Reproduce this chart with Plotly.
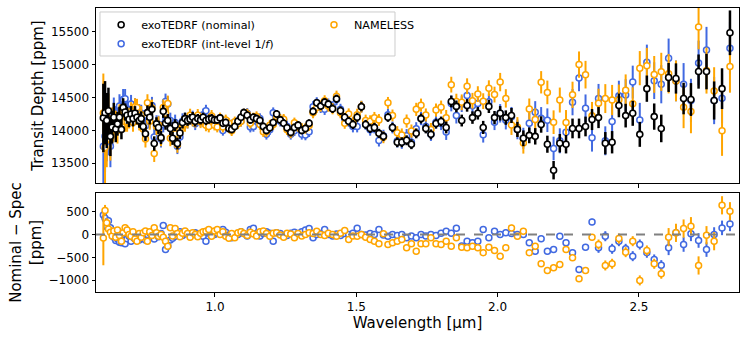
import numpy as np
import plotly.graph_objects as go

# ---------------- data ----------------
wavelength = [
    0.605, 0.611, 0.617, 0.623, 0.630, 0.636, 0.642, 0.649, 0.655, 0.662,
    0.669, 0.675, 0.682, 0.689, 0.696, 0.703, 0.710, 0.717, 0.724, 0.732,
    0.739, 0.746, 0.754, 0.761, 0.769, 0.777, 0.785, 0.793, 0.800, 0.809,
    0.817, 0.825, 0.833, 0.842, 0.850, 0.859, 0.867, 0.876, 0.885, 0.894,
    0.903, 0.912, 0.921, 0.930, 0.939, 0.949, 0.958, 0.968, 0.978, 0.988,
    0.998, 1.008, 1.018, 1.028, 1.038, 1.049, 1.059, 1.070, 1.081, 1.092,
    1.102, 1.114, 1.125, 1.136, 1.147, 1.159, 1.171, 1.182, 1.194, 1.206,
    1.218, 1.231, 1.243, 1.255, 1.268, 1.281, 1.294, 1.307, 1.320, 1.333,
    1.347, 1.360, 1.374, 1.388, 1.401, 1.416, 1.430, 1.444, 1.459, 1.473,
    1.488, 1.503, 1.518, 1.533, 1.549, 1.564, 1.580, 1.596, 1.612, 1.628,
    1.645, 1.661, 1.678, 1.695, 1.712, 1.729, 1.746, 1.764, 1.782, 1.800,
    1.818, 1.836, 1.854, 1.873, 1.892, 1.911, 1.930, 1.949, 1.969, 1.989,
    2.009, 2.029, 2.049, 2.070, 2.091, 2.112, 2.133, 2.154, 2.176, 2.198,
    2.220, 2.242, 2.265, 2.288, 2.311, 2.334, 2.357, 2.381, 2.405, 2.429,
    2.453, 2.478, 2.503, 2.528, 2.554, 2.579, 2.605, 2.631, 2.658, 2.684,
    2.711, 2.739, 2.766, 2.794, 2.822,
]

# exoTEDRF (nominal) transit depth [ppm]
depth_nominal = [
    14190, 14270, 14150, 14300, 13910, 14050, 14200, 14020, 14100, 14200,
    14015, 14350, 14280, 14230, 14170, 14250, 14180, 14260, 14200, 14150,
    14180, 14060, 13950, 14270, 14200, 14320, 13800, 14100, 14045, 13890,
    14290, 14110, 14150, 14030, 13880, 14080, 13800, 13960, 14120, 14180,
    14150, 14170, 14200, 14140, 14180, 14160, 14200, 14150, 14170, 14180,
    14160, 14160, 14190, 14110, 14120, 14030, 14015, 14060, 14140, 14200,
    14270, 14230, 14160, 14200, 14180, 14150, 14060, 14000, 14040, 14120,
    14250, 14160, 14110, 14040, 13970, 14045, 14080, 14000, 14030, 14110,
    14290, 14420, 14370, 14430, 14400, 14330, 14480, 14300, 14200, 14140,
    14090, 14200, 14360, 14090, 14030, 14045, 13955, 13910, 14200, 14045,
    13820, 13820, 13850, 13790, 13955, 14180, 14030, 13940, 14105, 14135,
    14045, 14440, 14365, 14150, 14380, 14195, 14260, 14045, 14365, 14195,
    14260, 14195, 14227, 14015, 13880, 13925, 13910, 14090, 13790, 13395,
    13805, 13790, 14030, 14030, 14060, 14165, 14195, 13805, 13820, 14380,
    14225, 14260, 13940, 14635, 14210, 14030, 14805, 14790, 14485, 14470,
    14895, 14895, 14455, 14635, 15485,
]

err_nominal = [
    520, 480, 420, 350, 300, 250, 220, 200, 180, 160,
    150, 140, 130, 130, 120, 120, 120, 110, 110, 110,
    110, 110, 110, 110, 110, 110, 110, 100, 100, 100,
    100, 100, 100, 100, 100, 90, 90, 90, 90, 90,
    80, 80, 80, 80, 70, 70, 70, 70, 70, 70,
    60, 60, 60, 60, 60, 60, 60, 60, 60, 60,
    60, 60, 60, 60, 60, 60, 60, 60, 60, 60,
    60, 60, 60, 60, 60, 60, 60, 60, 60, 60,
    60, 60, 60, 60, 60, 65, 65, 65, 65, 65,
    70, 70, 70, 70, 70, 70, 70, 70, 70, 70,
    75, 75, 75, 75, 75, 75, 75, 75, 75, 75,
    90, 90, 90, 90, 95, 95, 95, 100, 100, 100,
    110, 110, 115, 115, 120, 120, 125, 125, 130, 140,
    140, 140, 150, 150, 150, 160, 160, 170, 170, 180,
    180, 190, 190, 200, 200, 210, 220, 230, 240, 250,
    260, 270, 290, 310, 340,
]

# uncertainties of the two alternative reductions (top panel)
err_alt = [
    600, 550, 450, 380, 320, 270, 240, 220, 200, 180,
    170, 160, 150, 150, 140, 140, 140, 130, 130, 130,
    130, 130, 130, 130, 130, 130, 130, 130, 130, 130,
    120, 120, 120, 120, 120, 120, 120, 120, 120, 120,
    100, 100, 100, 95, 95, 95, 90, 90, 90, 90,
    80, 80, 80, 80, 80, 80, 80, 80, 80, 80,
    80, 80, 80, 80, 80, 80, 80, 80, 80, 80,
    80, 80, 80, 80, 80, 80, 80, 80, 80, 80,
    85, 85, 85, 85, 85, 85, 85, 85, 85, 85,
    90, 90, 90, 90, 90, 90, 90, 90, 90, 90,
    100, 100, 100, 100, 100, 100, 100, 100, 100, 100,
    120, 120, 120, 120, 120, 120, 120, 120, 120, 120,
    140, 140, 150, 150, 160, 160, 170, 170, 180, 180,
    190, 190, 200, 200, 210, 210, 220, 220, 230, 230,
    240, 250, 260, 270, 280, 290, 300, 310, 320, 330,
    340, 350, 360, 380, 400,
]

# Nominal - Spec residuals [ppm] (bottom panel)
resid_intlevel = [
    430, 360, 170, 300, 150, 60, -60, -130, -100, -170,
    -180, -120, -200, -90, -40, -150, -60, -100, -30, -120,
    -80, -30, -120, 0, 40, -60, -100, 0, -50, 20,
    200, -330, -250, -120, -80, -40, 40, 60, -20, 30,
    20, -30, 0, 40, -20, 10, -40, -150, 30, -10,
    0, 30, 70, 110, 50, -10, -70, -20, 0, 60,
    20, -30, 110, 140, 0, -30, 20, 60, 30, -150,
    40, 20, -40, -20, 30, 50, 20, 60, 100, 130,
    -70, 0, 20, 110, 0, -30, 10, -20, 20, 0,
    30, 140, 0, -10, 20, 0, 110, -10, -40, 0,
    -20, 0, -70, -30, -70, 0, -30, 0, -20, 30,
    70, 30, 140, -250, -150, -180, -150, 110, -70, 70,
    0, 40, 20, 0, 0, -183, -365, -95, -365, -330,
    -37, -183, -400, -766, -277, 277, -292, -37, -314, -146,
    -314, -475, -219, -400, -547, -672, -292, 37, -219, 15,
    -131, -330, 0, 146, 234,
]

resid_nameless = [
    -75, 530, 260, 120, 50, -30, 80, -60, 100, -20,
    -150, 40, 150, 100, 0, -40, 60, -100, -150, 20,
    -60, 40, 80, -150, 60, -20, 150, 40, -40, 0,
    -60, -150, -260, 150, -30, 130, 20, -50, 30, 80,
    20, -60, 40, 0, -50, 30, 60, 73, 110, -40,
    80, 110, 0, 60, -40, -80, 20, -70, 40, 60,
    20, -20, 50, 10, -30, 60, 80, 20, -40, 30,
    40, -10, -60, 30, 10, -70, 20, -30, 0, 37,
    20, 70, 0, -20, 30, 0, -40, 30, 90, -110,
    -30, -40, 0, -60, -110, -146, -204, 15, -219, -183,
    -146, -110, -292, -200, -365, -204, -204, -73, -204, -219,
    -146, -256, -73, -277, -292, -256, -292, -400, -277, -350,
    -475, -292, 146, -37, 73, -400, -256, -642, -788, -730,
    -657, -330, -511, -971, -788, -58, -219, -679, -642, -88,
    -387, -146, -1007, -350, -642, -861, -58, 37, 131, 183,
    -679, -15, -146, 642, 511,
]

resid_err_intlevel = [
    150, 120, 100, 80, 70, 40, 40, 40, 40, 40,
    40, 40, 40, 40, 40, 40, 40, 40, 40, 40,
    40, 40, 40, 40, 40, 40, 40, 40, 40, 40,
    40, 40, 40, 40, 40, 40, 40, 40, 40, 40,
    40, 30, 30, 30, 30, 30, 30, 30, 30, 30,
    30, 30, 30, 30, 30, 30, 30, 30, 30, 30,
    30, 30, 30, 30, 30, 30, 30, 30, 30, 30,
    30, 30, 30, 30, 30, 30, 30, 30, 30, 30,
    30, 30, 30, 30, 30, 30, 30, 30, 30, 30,
    30, 30, 30, 30, 30, 30, 30, 30, 30, 30,
    30, 30, 30, 30, 30, 30, 30, 30, 30, 30,
    30, 30, 30, 30, 30, 30, 30, 30, 30, 30,
    30, 70, 70, 70, 70, 70, 70, 70, 70, 70,
    70, 70, 70, 70, 70, 70, 110, 110, 110, 110,
    110, 110, 110, 110, 110, 110, 160, 160, 160, 160,
    160, 160, 160, 160, 160,
]

resid_err_nameless = [
    600, 120, 100, 80, 70, 40, 40, 40, 40, 40,
    40, 40, 40, 40, 40, 40, 40, 40, 40, 40,
    40, 40, 40, 40, 40, 40, 40, 40, 40, 40,
    40, 40, 40, 40, 40, 40, 40, 40, 40, 40,
    40, 30, 30, 30, 30, 30, 30, 30, 30, 30,
    30, 30, 30, 30, 30, 30, 30, 30, 30, 30,
    30, 30, 30, 30, 30, 30, 30, 30, 30, 30,
    30, 30, 30, 30, 30, 30, 30, 30, 30, 30,
    30, 30, 30, 30, 30, 30, 30, 30, 30, 30,
    30, 30, 30, 30, 30, 30, 30, 30, 30, 30,
    30, 30, 30, 30, 30, 30, 30, 30, 30, 30,
    30, 30, 30, 30, 30, 30, 30, 30, 30, 30,
    30, 70, 70, 70, 70, 70, 70, 70, 70, 70,
    70, 70, 70, 70, 70, 70, 110, 110, 110, 110,
    110, 110, 110, 110, 110, 110, 200, 200, 200, 200,
    200, 200, 200, 200, 200,
]

top_ticks = [13500, 14000, 14500, 15000, 15500]
bottom_ticks = [-1000, -500, 0, 500]
x_ticks = [1.0, 1.5, 2.0, 2.5]

# spectra of the alternative reductions follow from the residuals
nominal = np.array(depth_nominal, dtype=float)
depth_intlevel = nominal - np.array(resid_intlevel, dtype=float)
depth_nameless = nominal - np.array(resid_nameless, dtype=float)

BLUE = "#4169E1"
ORANGE = "#FFA500"
FONT = "DejaVu Sans"

fig = go.Figure()


def add_series(x, y, err, color, name, xaxis, yaxis, show, rank, ethick, mline,
               legend="legend"):
    fig.add_trace(go.Scatter(
        x=x, y=y, mode="markers", name=name, showlegend=show, legendrank=rank,
        legend=legend, xaxis=xaxis, yaxis=yaxis,
        error_y=dict(type="data", array=err, visible=True, color=color,
                     thickness=ethick, width=0),
        marker=dict(symbol="circle", size=6, color="white",
                    line=dict(color=color, width=mline)),
    ))


# top panel
add_series(wavelength, depth_intlevel, err_alt, BLUE,
           "exoTEDRF (int-level 1/<i>f</i>)", "x", "y", True, 3, 2, 1.5)
add_series(wavelength, depth_nameless, err_alt, ORANGE,
           "NAMELESS", "x", "y", True, 2, 2, 1.5, legend="legend2")
add_series(wavelength, depth_nominal, err_nominal, "black",
           "exoTEDRF (nominal)", "x", "y", True, 1, 2.5, 1.6)

# bottom panel
add_series(wavelength, resid_intlevel, resid_err_intlevel, BLUE,
           "int", "x2", "y2", False, 10, 2, 1.5)
add_series(wavelength, resid_nameless, resid_err_nameless, ORANGE,
           "nl", "x2", "y2", False, 11, 2, 1.5)

fig.add_shape(type="line", xref="x2 domain", yref="y2", x0=0, x1=1, y0=0, y1=0,
              line=dict(color="#808080", width=2, dash="dash"), layer="above")

# legend frame (matplotlib-style box behind the legend entries)
fig.add_shape(type="rect", xref="paper", yref="paper",
              x0=0.0062, x1=0.465, y0=0.831, y1=0.986,
              fillcolor="rgba(255,255,255,0.8)",
              line=dict(color="#cccccc", width=1), layer="above")

axis_common = dict(showline=True, mirror=True, linecolor="black", linewidth=1,
                   ticks="outside", ticklen=3.5, tickwidth=1, tickcolor="black",
                   showgrid=False, zeroline=False,
                   tickfont=dict(family=FONT, size=12, color="black"))

legend_common = dict(xanchor="left", yanchor="top", bgcolor="rgba(0,0,0,0)",
                     borderwidth=0, font=dict(family=FONT, size=11.2, color="black"),
                     itemsizing="trace", tracegroupgap=0, orientation="v")

fig.update_layout(
    width=748, height=339,
    margin=dict(l=96, r=9, t=8, b=47),
    paper_bgcolor="white", plot_bgcolor="white",
    font=dict(family=FONT, color="black"),
    xaxis=dict(domain=[0, 1], anchor="y", range=[0.579, 2.854],
               tickvals=x_ticks, showticklabels=False, **axis_common),
    yaxis=dict(domain=[0.3838, 1], anchor="x", range=[13200, 15862],
               tickvals=top_ticks, tickformat="d",
               title=dict(text="Transit Depth [ppm]", standoff=3,
                          font=dict(family=FONT, size=15)),
               **axis_common),
    xaxis2=dict(domain=[0, 1], anchor="y2", range=[0.579, 2.854], matches="x",
                tickvals=x_ticks, tickformat=".1f",
                title=dict(text="Wavelength [µm]", standoff=2,
                           font=dict(family=FONT, size=15)),
                **axis_common),
    yaxis2=dict(domain=[0, 0.3486], anchor="x2", range=[-1262, 912],
                tickvals=bottom_ticks, tickformat="d",
                title=dict(text="Nominal − Spec<br>[ppm]", standoff=3,
                           font=dict(family=FONT, size=15)),
                **axis_common),
    legend=dict(x=0.008, y=0.992, **legend_common),
    legend2=dict(x=0.339, y=0.992, **legend_common),
)

fig.write_html("out.html")
